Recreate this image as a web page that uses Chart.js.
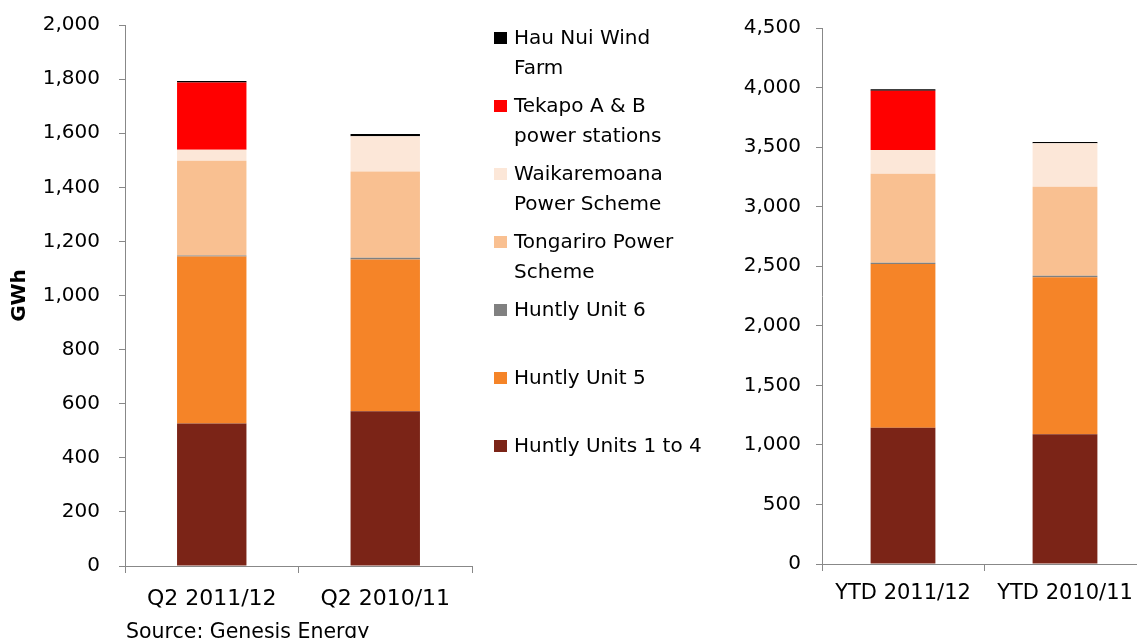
<!DOCTYPE html>
<html>
<head>
<meta charset="utf-8">
<script src="https://cdn.jsdelivr.net/npm/chart.js@4/dist/chart.umd.min.js"></script>
<style>
  html, body { margin: 0; padding: 0; background: #fff; overflow: hidden; }
  body { width: 1137px; height: 638px; position: relative; font-family: "DejaVu Sans", sans-serif; }
  canvas { position: absolute; }
  #chartQ { left: 0; top: -6px; }
  #chartY { left: 700px; top: 0; }
  .leg { position: absolute; left: 494px; width: 230px; font-size: 20px; line-height: 30px; color: #000; }
  .leg span.box { position: absolute; left: 0; top: 10px; width: 13px; height: 12px; }
  .leg div { margin-left: 20px; }
  #source { position: absolute; left: 126px; top: 621px; font-size: 20.5px; line-height: 20px; color: #000; }
</style>
</head>
<body>
<canvas id="chartQ" width="480" height="644"></canvas>
<canvas id="chartY" width="460" height="638"></canvas>
<div id="legend"></div>
<div id="source">Source: Genesis Energy</div>
<script>
// Categorias
const categoriasQ = ['Q2 2011/12', 'Q2 2010/11'];
const categoriasYTD = ['YTD 2011/12', 'YTD 2010/11'];

// Series (GWh) - trimestre
const huntly14Q = [527, 572];
const huntly5Q = [617, 561];
const huntly6Q = [4, 7];
const tongariroQ = [350, 318];
const waikaremoanaQ = [41, 131];
const tekapoQ = [248, 0];
const hauNuiQ = [6, 8];

// Series (GWh) - acumulado no ano
const huntly14YTD = [1144, 1089];
const huntly5YTD = [1375, 1318];
const huntly6YTD = [11, 13];
const tongariroYTD = [747, 748];
const waikaremoanaYTD = [199, 364];
const tekapoYTD = [498, 0];
const hauNuiYTD = [11, 11];

// Nomes e cores (de baixo para cima na pilha)
const nomes = ['Huntly Units 1 to 4', 'Huntly Unit 5', 'Huntly Unit 6', 'Tongariro Power Scheme',
  'Waikaremoana Power Scheme', 'Tekapo A & B power stations', 'Hau Nui Wind Farm'];
const cores = ['#7B2417', '#F58428', '#808080', '#F9C091', '#FCE7D8', '#FF0000', '#000000'];

// Legenda: ordem de cima para baixo, com quebras de linha como no original
const legendaTextos = [
  'Hau Nui Wind<br>Farm',
  'Tekapo A &amp; B<br>power stations',
  'Waikaremoana<br>Power Scheme',
  'Tongariro Power<br>Scheme',
  'Huntly Unit 6',
  'Huntly Unit 5',
  'Huntly Units 1 to 4'
];

const fonte = '"DejaVu Sans", sans-serif';

function montarDatasets(series) {
  return series.map((dados, i) => ({
    label: nomes[i],
    data: dados,
    backgroundColor: cores[i],
    borderWidth: 0,
    barPercentage: 0.4,
    categoryPercentage: 1.0
  }));
}

function opcoes(cfg) {
  return {
    responsive: false,
    animation: false,
    locale: 'en-US',
    layout: { padding: { top: cfg.top, right: cfg.right, bottom: 0, left: 0 } },
    plugins: { legend: { display: false }, tooltip: { enabled: false } },
    scales: {
      x: {
        stacked: true,
        grid: { drawOnChartArea: false, color: '#888', tickLength: 7 },
        border: { color: '#888' },
        ticks: { color: '#000', font: { family: fonte, size: cfg.xSize }, padding: cfg.xPad, maxRotation: 0 },
        afterFit: s => { s.height = cfg.xHeight; }
      },
      y: {
        stacked: true,
        min: 0,
        max: cfg.max,
        grid: { drawOnChartArea: false, color: '#888', tickLength: 6 },
        border: { color: '#888' },
        ticks: { stepSize: cfg.step, color: '#000', font: { family: fonte, size: 20 }, padding: cfg.yPad },
        title: cfg.title ? { display: true, text: cfg.title, color: '#000',
          font: { family: fonte, size: 20, weight: 'bold' }, padding: { top: 8, bottom: 0 } } : { display: false },
        afterFit: s => { s.width = cfg.yWidth; }
      }
    }
  };
}

new Chart(document.getElementById('chartQ'), {
  type: 'bar',
  data: {
    labels: categoriasQ,
    datasets: montarDatasets([huntly14Q, huntly5Q, huntly6Q, tongariroQ, waikaremoanaQ, tekapoQ, hauNuiQ])
  },
  options: opcoes({ top: 18, right: 8, xHeight: 72, xSize: 22, xPad: 13, max: 2000, step: 200, yPad: 19, yWidth: 125, title: 'GWh' })
});

new Chart(document.getElementById('chartY'), {
  type: 'bar',
  data: {
    labels: categoriasYTD,
    datasets: montarDatasets([huntly14YTD, huntly5YTD, huntly6YTD, tongariroYTD, waikaremoanaYTD, tekapoYTD, hauNuiYTD])
  },
  options: opcoes({ top: 28, right: 14, xHeight: 74, xSize: 21, xPad: 10, max: 4500, step: 500, yPad: 15, yWidth: 122 })
});

// Legenda em HTML
const legenda = document.getElementById('legend');
legendaTextos.forEach((texto, i) => {
  const item = document.createElement('div');
  item.className = 'leg';
  item.style.top = (22 + 68 * i) + 'px';
  item.innerHTML = `<span class="box" style="background:${cores[cores.length - 1 - i]}"></span><div>${texto}</div>`;
  legenda.appendChild(item);
});
</script>
</body>
</html>
